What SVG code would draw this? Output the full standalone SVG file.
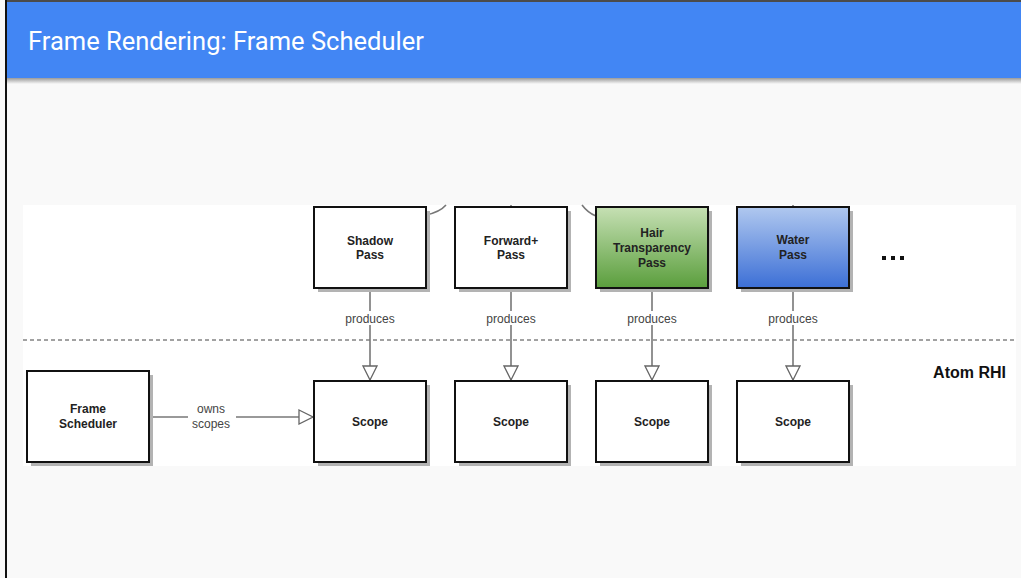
<svg xmlns="http://www.w3.org/2000/svg" width="1021" height="578" viewBox="0 0 1021 578">
  <defs>
    <linearGradient id="hdrShade" x1="0" y1="0" x2="0" y2="1">
      <stop offset="0" stop-color="#9a9a9a"/>
      <stop offset="1" stop-color="#f9f9f9"/>
    </linearGradient>
    <linearGradient id="greenFill" x1="0" y1="0" x2="0" y2="1">
      <stop offset="0" stop-color="#c6e0b4"/>
      <stop offset="1" stop-color="#5a9e3c"/>
    </linearGradient>
    <linearGradient id="blueFill" x1="0" y1="0" x2="0" y2="1">
      <stop offset="0" stop-color="#b0c8ef"/>
      <stop offset="1" stop-color="#3c6fd6"/>
    </linearGradient>
    <marker id="hollowTri" viewBox="0 0 16 16" refX="15" refY="8" markerWidth="16" markerHeight="16" markerUnits="userSpaceOnUse" orient="auto">
      <path d="M1,1 L15,8 L1,15 Z" fill="#ffffff" stroke="#666666" stroke-width="1.3"/>
    </marker>
  </defs>
  <style>
    .box { stroke: #111111; stroke-width: 2; }
    .shadow { fill: #b3b3b3; }
    .lbl { font-family: "Liberation Sans", Arial, sans-serif; font-size: 12px; font-weight: bold; fill: #222222; text-anchor: middle; }
    .edge { stroke: #777777; stroke-width: 1.6; fill: none; }
    .elbl { font-family: "Liberation Sans", Arial, sans-serif; font-size: 12px; fill: #444444; text-anchor: middle; }
  </style>

  <!-- slide background and frame -->
  <rect x="0" y="0" width="1021" height="578" fill="#f9f9f9"/>
  <rect x="7" y="2" width="1014" height="76" fill="#4286f4"/>
  <rect x="7" y="78" width="1014" height="6" fill="url(#hdrShade)"/>
  <line x1="6" y1="0" x2="6" y2="578" stroke="#111111" stroke-width="2"/>
  <line x1="6" y1="1" x2="1021" y2="1" stroke="#111111" stroke-width="1.5"/>
  <text x="28" y="50" font-family="Roboto, 'Noto Sans', sans-serif" font-size="25.5" font-weight="400" fill="#ffffff">Frame Rendering: Frame Scheduler</text>

  <!-- diagram canvas -->
  <rect x="23" y="205" width="993" height="261" fill="#ffffff"/>
  <line x1="23" y1="340" x2="1016" y2="340" stroke="#444444" stroke-width="1" stroke-dasharray="4,3"/>
  <text x="1006" y="378" font-family="Liberation Sans, Arial, sans-serif" font-size="16" font-weight="bold" fill="#111111" text-anchor="end">Atom RHI</text>
  <g fill="#111111">
    <rect x="882" y="256" width="4" height="4"/>
    <rect x="891" y="256" width="4" height="4"/>
    <rect x="900" y="256" width="4" height="4"/>
  </g>

  <!-- connectors -->
  <g id="connectors">
    <path class="edge" d="M426,215 Q440,212 446,205"/>
    <path class="edge" d="M582,205 Q588,213 596,216"/>
    <line class="edge" x1="511" y1="205" x2="511" y2="207"/>
    <line class="edge" x1="793" y1="205" x2="793" y2="207"/>

    <line class="edge" x1="370" y1="288" x2="370" y2="380" marker-end="url(#hollowTri)"/>
    <line class="edge" x1="511" y1="288" x2="511" y2="380" marker-end="url(#hollowTri)"/>
    <line class="edge" x1="652" y1="288" x2="652" y2="380" marker-end="url(#hollowTri)"/>
    <line class="edge" x1="793" y1="288" x2="793" y2="380" marker-end="url(#hollowTri)"/>
    <g>
      <rect x="342" y="311" width="56" height="14" fill="#ffffff"/>
      <text class="elbl" x="370" y="323">produces</text>
      <rect x="483" y="311" width="56" height="14" fill="#ffffff"/>
      <text class="elbl" x="511" y="323">produces</text>
      <rect x="624" y="311" width="56" height="14" fill="#ffffff"/>
      <text class="elbl" x="652" y="323">produces</text>
      <rect x="765" y="311" width="56" height="14" fill="#ffffff"/>
      <text class="elbl" x="793" y="323">produces</text>
    </g>

    <line class="edge" x1="149" y1="417" x2="313" y2="417" marker-end="url(#hollowTri)"/>
    <rect x="188" y="403" width="48" height="28" fill="#ffffff"/>
    <text class="elbl" x="211" y="413">owns</text>
    <text class="elbl" x="211" y="428">scopes</text>
  </g>

  <!-- pass nodes -->
  <g id="shadow-pass">
    <rect class="shadow" x="318" y="211" width="112" height="81"/>
    <rect class="box" x="314" y="207" width="112" height="81" fill="#ffffff"/>
    <text class="lbl" x="370" y="245">Shadow</text>
    <text class="lbl" x="370" y="259">Pass</text>
  </g>
  <g id="forward-pass">
    <rect class="shadow" x="459" y="211" width="112" height="81"/>
    <rect class="box" x="455" y="207" width="112" height="81" fill="#ffffff"/>
    <text class="lbl" x="511" y="245">Forward+</text>
    <text class="lbl" x="511" y="259">Pass</text>
  </g>
  <g id="hair-pass">
    <rect class="shadow" x="600" y="211" width="112" height="81"/>
    <rect class="box" x="596" y="207" width="112" height="81" fill="url(#greenFill)"/>
    <text class="lbl" x="652" y="237">Hair</text>
    <text class="lbl" x="652" y="252">Transparency</text>
    <text class="lbl" x="652" y="267">Pass</text>
  </g>
  <g id="water-pass">
    <rect class="shadow" x="741" y="211" width="112" height="81"/>
    <rect class="box" x="737" y="207" width="112" height="81" fill="url(#blueFill)"/>
    <text class="lbl" x="793" y="244">Water</text>
    <text class="lbl" x="793" y="259">Pass</text>
  </g>

  <!-- scheduler and scopes -->
  <g id="frame-scheduler">
    <rect class="shadow" x="31" y="375" width="122" height="91"/>
    <rect class="box" x="27" y="371" width="122" height="91" fill="#ffffff"/>
    <text class="lbl" x="88" y="413">Frame</text>
    <text class="lbl" x="88" y="428">Scheduler</text>
  </g>
  <g id="scope-1">
    <rect class="shadow" x="318" y="385" width="112" height="81"/>
    <rect class="box" x="314" y="381" width="112" height="81" fill="#ffffff"/>
    <text class="lbl" x="370" y="426">Scope</text>
  </g>
  <g id="scope-2">
    <rect class="shadow" x="459" y="385" width="112" height="81"/>
    <rect class="box" x="455" y="381" width="112" height="81" fill="#ffffff"/>
    <text class="lbl" x="511" y="426">Scope</text>
  </g>
  <g id="scope-3">
    <rect class="shadow" x="600" y="385" width="112" height="81"/>
    <rect class="box" x="596" y="381" width="112" height="81" fill="#ffffff"/>
    <text class="lbl" x="652" y="426">Scope</text>
  </g>
  <g id="scope-4">
    <rect class="shadow" x="741" y="385" width="112" height="81"/>
    <rect class="box" x="737" y="381" width="112" height="81" fill="#ffffff"/>
    <text class="lbl" x="793" y="426">Scope</text>
  </g>
</svg>
